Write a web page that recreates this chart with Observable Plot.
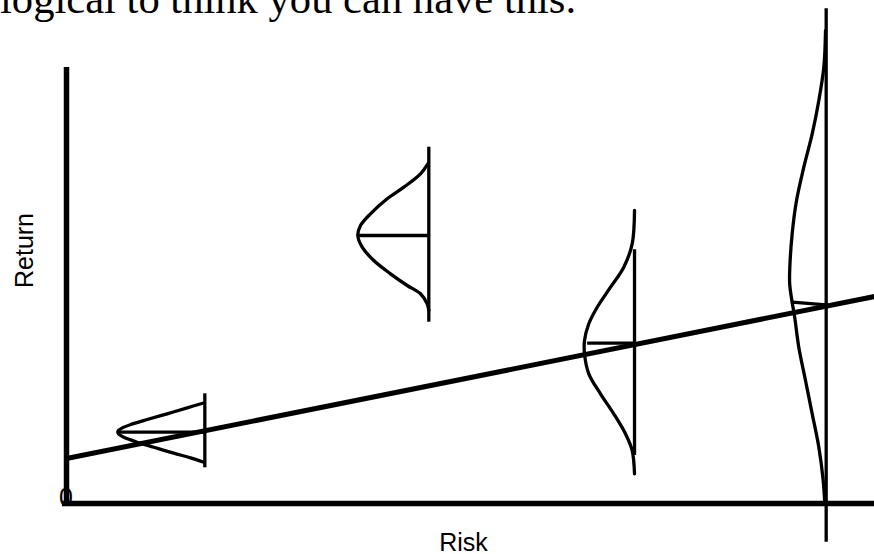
<!DOCTYPE html>
<html>
<head>
<meta charset="utf-8">
<script src="https://cdn.jsdelivr.net/npm/d3@7"></script>
<script src="https://cdn.jsdelivr.net/npm/@observablehq/plot@0.6"></script>
<style>
  html, body { margin: 0; padding: 0; background: #fff; overflow: hidden; }
  #wrap { position: relative; width: 874px; height: 554px; }
  #title { position: absolute; left: 0px; top: -22px; font: 42.6px/42.6px "Liberation Serif", "Times New Roman", serif; color: #000; white-space: nowrap; z-index: 1; }
  #chart svg { display: block; }
</style>
</head>
<body>
<div id="wrap">
  <div id="title"></div>
  <div id="chart"></div>
</div>
<script>
// Labels
const titleText = "logical to think you can have this.";
const xLabel = "Risk";
const yLabel = "Return";
const originLabel = "0";

// Risk–return trade-off line: [risk, return]
const tradeoffLine = [[0, 10.32], [100, 47.48]];

// Axis extents
const xAxisExtent = [-0.5, 100];
const yAxisExtent = [-0.46, 100];

// Bell curves (outline points): [risk, return]
const bell1 = [[16.87,23.00],[14.94,21.95],[12.46,20.57],[9.99,19.27],[8.00,18.15],[6.85,17.30],[6.40,16.70],[6.35,16.35],[6.50,15.85],[7.10,15.20],[8.75,14.06],[10.80,12.91],[13.28,11.54],[15.35,10.48],[16.99,9.47]];
const bell2 = [[44.72,77.91],[43.81,75.62],[41.75,72.55],[39.69,69.89],[37.62,66.44],[36.39,63.76],[36.05,61.47],[36.60,58.78],[38.03,55.73],[40.10,52.68],[42.17,50.00],[43.81,48.10],[44.64,45.80],[44.84,44.27]];
const bell3 = [[70.30,67.20],[70.01,59.56],[68.97,54.20],[67.33,49.61],[65.68,45.02],[64.64,41.22],[64.11,37.39],[64.11,34.33],[64.64,29.75],[66.09,25.16],[67.73,20.57],[69.18,15.99],[70.01,12.16],[70.30,6.81]];
const bell4 = [[93.94,108.49],[93.73,100.07],[93.11,92.43],[92.29,84.79],[91.25,77.13],[90.35,69.50],[89.81,61.86],[89.52,54.20],[89.50,50.50],[89.75,46.80],[90.10,43.00],[90.63,35.85],[91.46,28.21],[92.29,20.57],[93.11,12.91],[93.65,5.28],[93.85,-0.07]];

// Vertical bars of each bell: [risk, returnLow, returnHigh]
const bellAxes = [[17.12, 8.19, 25.16],[44.84, 41.58, 81.72],[70.30, 11.01, 58.19],[94.02, -8.88, 113.46]];
// Mean lines of each bell: [riskLeft, returnLeft, riskRight, returnRight]
const bellMeans = [[6.35,16.35,17.12,16.35],[36.05,61.47,44.84,61.47],[64.44,36.77,70.30,36.77],[89.81,46.17,94.02,45.57]];

const curves = [bell1, bell2, bell3, bell4].flatMap((b, i) => b.map(([risk, ret]) => ({bell: i, risk, ret})));
const axesData = bellAxes.map(([risk, lo, hi]) => ({risk, lo, hi}));
const meansData = bellMeans.map(([x1, y1, x2, y2]) => ({x1, y1, x2, y2}));
const tradeData = tradeoffLine.map(([risk, ret]) => ({risk, ret}));

document.getElementById("title").textContent = titleText;

const sans = "'Liberation Sans', Arial, Helvetica, sans-serif";

const chart = Plot.plot({
  width: 874,
  height: 554,
  marginLeft: 66,
  marginRight: 0,
  marginTop: 67,
  marginBottom: 51,
  x: {domain: [0, 100], axis: null},
  y: {domain: [0, 100], axis: null},
  style: {background: "#fff", overflow: "visible"},
  marks: [
    // axes
    Plot.ruleY([0], {x1: xAxisExtent[0], x2: xAxisExtent[1], stroke: "#000", strokeWidth: 5.5}),
    Plot.ruleX([0], {y1: yAxisExtent[0], y2: yAxisExtent[1], stroke: "#000", strokeWidth: 5.5}),
    // bell vertical bars
    Plot.ruleX(axesData, {x: "risk", y1: "lo", y2: "hi", stroke: "#000", strokeWidth: 3.3}),
    // mean lines
    Plot.link(meansData, {x1: "x1", y1: "y1", x2: "x2", y2: "y2", stroke: "#000", strokeWidth: 3.3}),
    // bell curves
    Plot.line(curves, {x: "risk", y: "ret", z: "bell", curve: "catmull-rom", stroke: "#000", strokeWidth: 3.3}),
    // trade-off line
    Plot.line(tradeData, {x: "risk", y: "ret", stroke: "#000", strokeWidth: 5, strokeLinecap: "butt"}),
    // labels
    Plot.text([xLabel], {frameAnchor: "bottom", text: d => d, dx: -7, dy: 47, lineAnchor: "bottom", textAnchor: "middle", fontSize: 25, fontFamily: sans, fill: "#000"}),
    Plot.text([yLabel], {frameAnchor: "left", text: d => d, rotate: -90, dx: -42, dy: -35, lineAnchor: "middle", textAnchor: "middle", fontSize: 25, fontFamily: sans, fill: "#000"}),
    Plot.text([originLabel], {frameAnchor: "bottom-left", text: d => d, dx: -0.5, dy: 2, lineAnchor: "bottom", textAnchor: "middle", fontSize: 25, fontFamily: sans, fill: "#000"})
  ]
});
document.getElementById("chart").appendChild(chart);
</script>
</body>
</html>
